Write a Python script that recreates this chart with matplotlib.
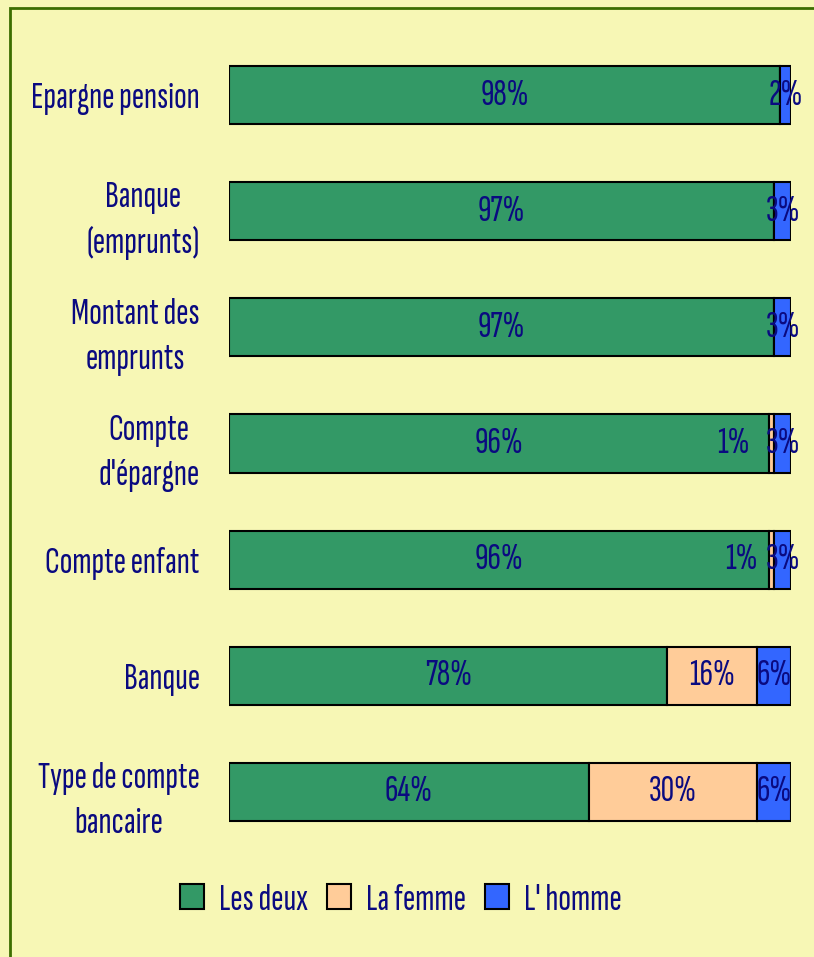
import matplotlib
matplotlib.use("Agg")
import matplotlib.pyplot as plt
from matplotlib.patches import Rectangle
from matplotlib import font_manager

categories = ["Epargne pension", "Banque\n(emprunts)", "Montant des\nemprunts",
              "Compte\nd'épargne", "Compte enfant", "Banque", "Type de compte\nbancaire"]
les_deux = [98, 97, 97, 96, 96, 78, 64]
la_femme = [0, 0, 0, 1, 1, 16, 30]
l_homme = [2, 3, 3, 3, 3, 6, 6]
series_names = ["Les deux", "La femme", "L' homme"]
colors = ["#339966", "#FFCC99", "#3366FF"]

names = {f.name for f in font_manager.fontManager.ttflist}
fam = [f for f in ["Sofia Sans Extra Condensed", "Pathway Gothic One", "Liberation Sans Narrow"] if f in names]
plt.rcParams["font.family"] = fam + ["DejaVu Sans"]

txt = "#0A0A80"
bg = "#F7F7B5"
fs = 27

fig = plt.figure(figsize=(8.14, 9.57), dpi=100, facecolor=bg)
ax = fig.add_axes([229 / 814, 1 - 850 / 957, (791 - 229) / 814, (850 - 37) / 957])
ax.set_facecolor(bg)

ypos = list(range(len(categories)))
left = [0] * len(categories)
for vals, c, name in zip([les_deux, la_femme, l_homme], colors, series_names):
    ax.barh(ypos, vals, left=left, height=0.5, color=c, edgecolor="black",
            linewidth=1.5, label=name)
    for y, v, l in zip(ypos, vals, left):
        if v == 0:
            continue
        x = l + v / 2
        ha = "center"
        if name == "La femme" and v < 3:
            x = l - 3.3 if y == 3 else l - 1.9
            ha = "right"
        ax.text(x, y, f"{v}%", ha=ha, va="center", color=txt, fontsize=fs,
                fontweight="light")
    left = [a + b for a, b in zip(left, vals)]

ax.set_xlim(0, 100)
ax.set_ylim(len(categories) - 0.5, -0.5)
for s in ax.spines.values():
    s.set_visible(False)
ax.set_xticks([])
ax.set_yticks(ypos)
ax.set_yticklabels(categories, fontsize=fs, color=txt, multialignment="center",
                   linespacing=1.45, fontweight="light")
ax.tick_params(axis="y", length=0, pad=21)

leg = fig.legend(loc="center", bbox_to_anchor=(401 / 814, 1 - 900 / 957), ncol=3,
                 frameon=False, handlelength=0.65, handleheight=0.65,
                 handletextpad=0.4, columnspacing=0.5, labelcolor=txt,
                 prop={"size": fs, "weight": "light"})

fig.patches.append(Rectangle((10 / 814, -0.1), 1.2, 1 - 8 / 957 + 0.1,
                             transform=fig.transFigure, fill=False,
                             edgecolor="#3C6E00", linewidth=2))

fig.savefig("out.png", dpi=100, facecolor=bg)
